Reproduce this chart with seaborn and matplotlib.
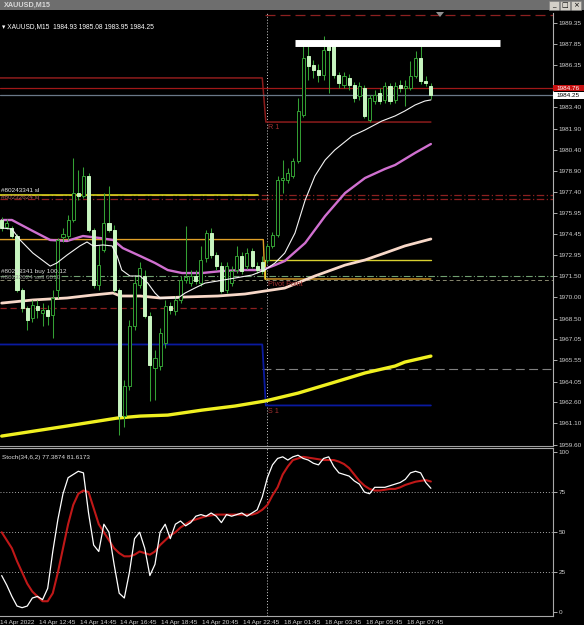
import matplotlib
matplotlib.use("Agg")
import matplotlib.pyplot as plt
import seaborn as sns
import numpy as np
import pandas as pd
from matplotlib.patches import Rectangle, Polygon

# ---------------- data ----------------
SYMBOL = "XAUUSD,M15"
HEADER_OHLC = ["1984.93", "1985.08", "1983.95", "1984.25"]

OPEN = [1975.45, 1974.96, 1974.89, 1974.32, 1970.51, 1969.24, 1968.54, 1969.38, 1968.89, 1969.10,
        1968.75, 1970.51, 1974.25, 1974.32, 1975.45, 1977.35, 1977.14, 1978.55, 1974.74, 1970.86,
        1973.33, 1975.24, 1974.74, 1970.51, 1961.62, 1963.74, 1967.97, 1970.86, 1971.50, 1968.68,
        1965.01, 1965.15, 1966.77, 1969.38, 1969.03, 1969.81, 1971.22, 1971.00, 1971.50, 1971.00,
        1972.77, 1974.53, 1972.98, 1972.20, 1970.51, 1971.00, 1971.92, 1972.91, 1972.20, 1973.26,
        1972.20, 1972.49, 1972.63, 1973.62, 1974.39, 1978.27, 1978.27, 1978.55, 1979.61, 1982.86,
        1987.02, 1986.38, 1986.03, 1985.68, 1987.73, 1987.80, 1985.68, 1984.97, 1985.47, 1984.97,
        1984.20, 1984.76, 1982.50, 1983.84, 1984.41, 1983.92, 1984.90, 1983.92, 1984.97, 1984.76,
        1984.76, 1985.61, 1986.88, 1985.26, 1984.93]
HIGH = [1975.66, 1975.52, 1975.03, 1974.46, 1970.65, 1969.38, 1969.81, 1969.81, 1969.59, 1969.45,
        1970.51, 1974.18, 1974.89, 1975.80, 1979.82, 1978.98, 1979.19, 1978.77, 1974.89, 1973.69,
        1977.35, 1977.85, 1975.10, 1970.65, 1964.16, 1968.39, 1971.57, 1972.49, 1971.92, 1968.96,
        1966.28, 1967.83, 1969.81, 1969.66, 1970.09, 1971.50, 1975.03, 1971.92, 1971.92, 1973.62,
        1974.74, 1974.89, 1973.19, 1972.49, 1972.49, 1972.20, 1973.62, 1973.19, 1973.47, 1973.47,
        1972.49, 1972.91, 1973.83, 1974.60, 1978.55, 1979.68, 1979.12, 1979.82, 1984.06, 1987.73,
        1987.73, 1986.74, 1986.46, 1988.43, 1988.15, 1988.15, 1985.89, 1985.89, 1985.75, 1985.19,
        1985.19, 1984.97, 1984.27, 1984.62, 1984.76, 1985.19, 1985.11, 1985.19, 1985.33, 1985.33,
        1986.67, 1987.37, 1987.73, 1985.61, 1985.08]
LOW = [1974.67, 1974.81, 1974.18, 1970.37, 1968.96, 1967.69, 1968.25, 1968.54, 1967.97, 1968.04,
       1967.12, 1969.95, 1973.90, 1974.04, 1975.31, 1976.86, 1977.00, 1974.60, 1970.65, 1970.51,
       1973.19, 1974.60, 1970.37, 1960.28, 1960.85, 1963.46, 1967.69, 1970.65, 1968.54, 1962.68,
       1962.75, 1964.87, 1966.42, 1968.82, 1968.75, 1969.59, 1971.00, 1970.79, 1970.93, 1970.79,
       1972.49, 1972.77, 1971.92, 1970.30, 1970.30, 1970.79, 1971.71, 1971.64, 1971.99, 1972.06,
       1971.71, 1971.64, 1972.42, 1973.47, 1974.25, 1977.35, 1978.06, 1978.41, 1979.47, 1982.72,
       1985.33, 1985.47, 1985.19, 1985.33, 1984.41, 1985.47, 1984.76, 1984.76, 1984.62, 1983.77,
       1983.92, 1982.65, 1982.36, 1983.63, 1983.63, 1983.70, 1983.63, 1983.70, 1984.48, 1983.49,
       1984.62, 1985.47, 1985.04, 1984.90, 1983.95]
CLOSE = [1974.89, 1975.24, 1974.32, 1970.51, 1969.24, 1968.39, 1969.45, 1969.10, 1969.10, 1968.68,
         1969.95, 1974.04, 1974.46, 1975.45, 1977.35, 1977.14, 1978.55, 1974.74, 1970.86, 1972.27,
         1975.24, 1974.74, 1970.51, 1961.62, 1963.74, 1967.97, 1971.00, 1972.06, 1968.68, 1965.22,
         1965.71, 1967.48, 1969.38, 1969.10, 1969.81, 1971.22, 1971.43, 1971.50, 1971.15, 1972.63,
         1974.53, 1972.98, 1972.20, 1970.44, 1972.20, 1971.85, 1972.91, 1971.85, 1973.12, 1972.20,
         1971.92, 1971.85, 1973.62, 1974.39, 1978.27, 1978.41, 1978.77, 1979.61, 1983.14, 1986.88,
         1986.31, 1986.03, 1985.68, 1987.44, 1987.44, 1985.68, 1985.11, 1985.61, 1984.97, 1984.06,
         1984.90, 1982.79, 1984.06, 1984.27, 1983.84, 1984.90, 1983.84, 1984.90, 1984.76, 1984.90,
         1985.61, 1986.88, 1985.26, 1985.11, 1984.25]

# moving averages read at points (bar index, price)
MA_FAST_BAR = [0, 2.0, 3.6, 6.1, 9.5, 10.8, 12.8, 15.3, 16.7, 17.9, 19.8, 21.6, 22.6, 23.5, 25.1, 27.1,
               28.6, 30.0, 31.0, 34.5, 35.9, 37.8, 39.8, 42.3, 45.7, 49.0, 51.5, 53.5, 55.4, 57.4, 59.4,
               61.3, 63.3, 65.2, 68.6, 71.1, 74.4, 77.0, 78.9, 80.9, 82.8, 84.0]
MA_FAST = [1974.89, 1974.81, 1974.04, 1973.12, 1972.20, 1972.42, 1972.98, 1973.62, 1973.90, 1973.62,
           1973.69, 1973.62, 1972.91, 1971.92, 1971.50, 1971.50, 1971.00, 1970.30, 1969.95, 1969.95,
           1970.30, 1970.65, 1971.00, 1971.15, 1971.36, 1971.57, 1971.92, 1972.42, 1973.12, 1974.53,
           1976.86, 1978.55, 1979.68, 1980.39, 1981.38, 1981.80, 1982.43, 1982.79, 1983.14, 1983.56,
           1983.84, 1983.92]
MA_MID_BAR = [0, 2.0, 6.1, 9.5, 12.8, 15.9, 19.2, 21.8, 23.7, 27.1, 30.0, 32.5, 35.3, 39.2, 43.1, 47.0,
              50.9, 53.5, 55.4, 59.4, 63.3, 67.2, 71.1, 75.0, 77.0, 80.9, 84.0]
MA_MID = [1975.45, 1975.45, 1974.67, 1974.04, 1973.97, 1974.32, 1974.18, 1974.04, 1973.47, 1972.91,
          1972.42, 1971.92, 1971.71, 1971.71, 1971.85, 1971.92, 1971.92, 1972.27, 1972.56, 1973.83,
          1975.73, 1977.35, 1978.41, 1979.05, 1979.33, 1980.18, 1980.81]
MA_SLOW_BAR = [0, 6.1, 12.8, 17.9, 21.8, 23.2, 27.1, 31.0, 35.9, 42.3, 47.6, 51.5, 55.4, 61.3, 67.2,
               71.1, 75.0, 78.9, 84.0]
MA_SLOW = [1969.59, 1969.81, 1969.95, 1970.16, 1970.30, 1970.09, 1970.09, 1969.95, 1970.02, 1970.09,
           1970.23, 1970.44, 1970.65, 1971.50, 1972.27, 1972.63, 1973.12, 1973.62, 1974.11]
MA_LONG_BAR = [0, 12.8, 22.6, 27.1, 32.5, 39.2, 45.7, 51.5, 58.0, 64.6, 71.1, 77.0, 78.9, 84.0]
MA_LONG = [1960.21, 1960.92, 1961.48, 1961.62, 1961.69, 1962.04, 1962.33, 1962.68, 1963.24, 1963.95,
           1964.66, 1965.15, 1965.43, 1965.85]

# Stochastic (34,6,2), one value per bar
STOCH_MAIN = [23, 17, 10, 4, 3, 4, 9, 10, 8, 15,
              38, 58, 74, 84, 86, 88, 87, 62, 42, 38,
              55, 50, 30, 12, 9, 25, 46, 50, 40, 23,
              30, 50, 55, 46, 55, 57, 54, 56, 60, 61,
              60, 62, 60, 56, 61, 60, 61, 62, 60, 62,
              64, 72, 84, 92, 96, 97, 95, 97, 98, 96,
              95, 93, 92, 96, 97, 91, 87, 86, 85, 82,
              80, 75, 74, 78, 78, 78, 79, 80, 81, 83,
              87, 88, 87, 81, 77.3874]
STOCH_SIGNAL = [50, 45, 40, 32, 25, 18, 13, 10, 7, 7,
                12, 25, 40, 55, 67, 74, 76, 75, 65, 55,
                50, 45, 40, 37, 35, 35, 36, 38, 37, 36,
                38, 42, 45, 48, 50, 53, 55, 57, 58, 59,
                60, 60.5, 61, 61, 61, 61, 61, 61, 61, 61,
                62, 64, 67, 73, 78, 86, 91, 95, 96, 97,
                96.5, 96, 95.5, 95, 95, 95, 94, 92.5, 90, 86,
                82, 79, 77, 76, 76, 76.5, 77, 77, 78, 79.5,
                80.5, 81.5, 82, 82.5, 81.6173]

# levels
R1_LEVELS = [1985.47, 1982.36]
PIVOT_LEVELS = [1974.07, 1971.29]
S1_LEVELS = [1966.67, 1962.37]
DAY2_LINE = 1972.63
SL_LINE = 1977.21
RED_DASHDOT = [1977.21, 1976.93]
BUY_LINE = 1971.50
ORDER_LINE2 = 1971.22
RED_DASHED = 1969.24
GRAY_DASHED = 1964.94
TOP_DASHED = 1989.93
ASK = 1984.76
BID = 1984.25
WHITE_BAR = 1987.94
WHITE_BAR_SPAN = [57.4, 97.5]

PRICE_TICKS = [1989.35, 1987.85, 1986.35, 1983.40, 1981.90, 1980.40, 1978.90, 1977.40, 1975.95,
               1974.45, 1972.95, 1971.50, 1970.00, 1968.50, 1967.05, 1965.55, 1964.05, 1962.60,
               1961.10, 1959.60]
STOCH_TICKS = [0, 25, 50, 75, 100]
TIME_BARS = [7, 15, 23, 31, 39, 47, 55, 63, 71, 79]
TIME_LABELS = ["14 Apr 12:45", "14 Apr 14:45", "14 Apr 16:45", "14 Apr 18:45", "14 Apr 20:45",
               "14 Apr 22:45", "18 Apr 01:45", "18 Apr 03:45", "18 Apr 05:45", "18 Apr 07:45"]
FIRST_LABEL = "14 Apr 2022"
DAY_BREAK = 52

# ---------------- style ----------------
sns.set_style("dark", {"axes.facecolor": "black", "figure.facecolor": "black"})
plt.rcParams['font.family'] = ['Liberation Sans', 'DejaVu Sans']
FS = 4.6
W, H = 584, 625
fig = plt.figure(figsize=(W / 100, H / 100), dpi=100, facecolor="black")

def fx(px):
    return px / W

def fy(py):
    return 1 - py / H

ax = fig.add_axes([0, fy(446), fx(553), (446 - 13) / H])
ax2 = fig.add_axes([0, fy(616), fx(553), (616 - 448) / H])
for a in (ax, ax2):
    a.set_facecolor("black")
    a.grid(False)
    for s in a.spines.values():
        s.set_visible(False)

n = len(OPEN)
xs = np.arange(n)
XMIN, XMAX = -0.33, 107.9
ax.set_xlim(XMIN, XMAX)
ax2.set_xlim(XMIN, XMAX)
ax.set_ylim(1959.51, 1990.05)
ax2.set_ylim(-2.2, 102.5)

# ---- horizontal levels ----
ax.plot([XMIN, 51, 51.7, 84], [R1_LEVELS[0], R1_LEVELS[0], R1_LEVELS[1], R1_LEVELS[1]],
        color="#8c1c1c", lw=1.1, zorder=2)
ax.plot([XMIN, 51.2, 51.5, 84], [PIVOT_LEVELS[0], PIVOT_LEVELS[0], PIVOT_LEVELS[1], PIVOT_LEVELS[1]],
        color="#e0a028", lw=1.0, zorder=2)
ax.plot([51.5, 84], [DAY2_LINE, DAY2_LINE], color="#d8d030", lw=1.0, zorder=2)
ax.plot([51.5, 51.5], [DAY2_LINE, PIVOT_LEVELS[1]], color="#d8d030", lw=0.8, zorder=2)
ax.plot([XMIN, 51, 51.7, 84], [S1_LEVELS[0], S1_LEVELS[0], S1_LEVELS[1], S1_LEVELS[1]],
        color="#0a1aa0", lw=1.3, zorder=2)
ax.plot([XMIN, 50.2], [SL_LINE, SL_LINE], color="#e8e820", lw=1.1, zorder=2)
for lv in RED_DASHDOT:
    ax.plot([XMIN, XMAX], [lv, lv], color="#8c2020", lw=0.9, ls=(0, (6, 2, 1, 2)), zorder=1)
ax.plot([XMIN, XMAX], [BUY_LINE, BUY_LINE], color="#70a070", lw=0.8, ls=(0, (6, 2, 1, 2)), zorder=1)
ax.plot([XMIN, XMAX], [ORDER_LINE2, ORDER_LINE2], color="#8a8a70", lw=0.7, ls=(0, (4, 3)), zorder=1)
ax.plot([XMIN, 51], [RED_DASHED, RED_DASHED], color="#8c2020", lw=0.9, ls=(0, (5, 3)), zorder=1)
ax.plot([51, XMAX], [GRAY_DASHED, GRAY_DASHED], color="#808080", lw=0.8, ls=(0, (8, 4)), zorder=1)
ax.plot([51.5, XMAX], [TOP_DASHED, TOP_DASHED], color="#8c2020", lw=0.9, ls=(0, (8, 4)), zorder=1)
ax.plot([XMIN, XMAX], [ASK, ASK], color="#a01818", lw=0.9, zorder=2)
ax.plot([XMIN, XMAX], [BID, BID], color="#6a7888", lw=0.9, zorder=2)
ax.plot(WHITE_BAR_SPAN, [WHITE_BAR, WHITE_BAR], color="white", lw=5.0, solid_capstyle="butt", zorder=6)

# ---- moving averages (seaborn) ----
sns.lineplot(x=MA_LONG_BAR, y=MA_LONG, ax=ax, color="#f0f020", lw=2.4, sort=False, legend=False, zorder=3)
sns.lineplot(x=MA_SLOW_BAR, y=MA_SLOW, ax=ax, color="#f8d8c8", lw=2.0, sort=False, legend=False, zorder=3)
sns.lineplot(x=MA_MID_BAR, y=MA_MID, ax=ax, color="#d070d0", lw=1.7, sort=False, legend=False, zorder=3)
sns.lineplot(x=MA_FAST_BAR, y=MA_FAST, ax=ax, color="#f4f4f4", lw=0.8, sort=False, legend=False, zorder=5)

# ---- candles ----
EDGE = "#34a034"
BEAR_FILL = "#c8f5c0"
for i in range(n):
    o, h, l, c = OPEN[i], HIGH[i], LOW[i], CLOSE[i]
    ax.vlines(i, l, h, color=EDGE, lw=0.75, zorder=4)
    bull = c >= o
    bot = min(o, c)
    hgt = max(abs(c - o), 0.03)
    ax.add_patch(Rectangle((i - 0.3, bot), 0.6, hgt,
                           facecolor="black" if bull else BEAR_FILL,
                           edgecolor=EDGE if bull else BEAR_FILL, lw=0.7, zorder=4.5))

# separator
for a in (ax, ax2):
    a.axvline(DAY_BREAK, color="#d8d8d8", lw=0.7, ls=(0, (1, 2)), zorder=1)

# level labels
ax.text(52.2, 1981.94, "R 1", color="#a03030", fontsize=FS + 0.6, va="center", ha="left", zorder=7)
ax.text(52.2, 1970.90, "Pivot Point", color="#a03030", fontsize=FS + 0.6, va="center", ha="left", zorder=7)
ax.text(52.2, 1961.95, "S 1", color="#a03030", fontsize=FS + 0.6, va="center", ha="left", zorder=7)
ax.text(-0.2, 1977.55, "#80243341 sl", color="#e8e8e8", fontsize=FS, va="center", ha="left", zorder=7)
ax.text(-0.2, 1977.05, "#80232624 sl", color="#a06060", fontsize=FS, va="center", ha="left", zorder=7)
ax.text(-0.2, 1971.80, "#80243341 buy 100.12", color="#d8d8d8", fontsize=FS, va="center", ha="left", zorder=7)
ax.text(-0.2, 1971.40, "#80232624 sell 6010", color="#909090", fontsize=FS, va="center", ha="left", zorder=7)

# header text
ax.text(0.004, 1989.08, "\u25BE " + SYMBOL + "  " + " ".join(HEADER_OHLC),
        transform=ax.get_yaxis_transform(), color="white", fontsize=FS + 0.2, va="center", ha="left", zorder=8)

# ---- price axis ----
ax.yaxis.tick_right()
ax.set_yticks(PRICE_TICKS)
ax.set_yticklabels([f"{p:.2f}" for p in PRICE_TICKS])
ax.tick_params(axis="y", colors="#c8c8c8", labelcolor="#d0d0d0", labelsize=FS, length=3, width=0.6,
               pad=1, direction="out")
ax.set_xticks([])
ax.spines["right"].set_visible(True)
ax.spines["right"].set_color("#b0b0b0")
ax.spines["right"].set_linewidth(0.8)
ax.spines["bottom"].set_visible(True)
ax.spines["bottom"].set_color("#a0a0a0")
ax.spines["bottom"].set_linewidth(0.8)

# bid / ask boxes
tr = ax.get_yaxis_transform()
ax.add_patch(Rectangle((1.0, ASK - 0.22), 31 / 553, 0.40, transform=tr, facecolor="#c81010",
                       edgecolor="none", clip_on=False, zorder=9))
ax.text(1.006, ASK - 0.02, f"{ASK:.2f}", transform=tr, color="white", fontsize=FS, va="center", ha="left",
        clip_on=False, zorder=10)
ax.add_patch(Rectangle((1.0, BID - 0.24), 31 / 553, 0.44, transform=tr, facecolor="white",
                       edgecolor="none", clip_on=False, zorder=9))
ax.text(1.006, BID - 0.02, f"{BID:.2f}", transform=tr, color="black", fontsize=FS, va="center", ha="left",
        clip_on=False, zorder=10)

# ---- stochastic ----
for lv in (25, 50, 75):
    ax2.axhline(lv, color="#a8a8a8", lw=0.7, ls=(0, (1, 2)), zorder=1)
sns.lineplot(x=xs, y=STOCH_SIGNAL, ax=ax2, color="#c01818", lw=1.5, sort=False, legend=False, zorder=3)
sns.lineplot(x=xs, y=STOCH_MAIN, ax=ax2, color="white", lw=0.9, sort=False, legend=False, zorder=4)
ax2.text(0.004, 96.5, "Stoch(34,6,2) 77.3874 81.6173", transform=ax2.get_yaxis_transform(),
         color="#e0e0e0", fontsize=FS, va="center", ha="left")
ax2.yaxis.tick_right()
ax2.set_yticks(STOCH_TICKS)
ax2.set_yticklabels([str(t) for t in STOCH_TICKS])
ax2.tick_params(axis="y", colors="#c8c8c8", labelcolor="#d0d0d0", labelsize=FS, length=3, width=0.6, pad=1)
ax2.set_xticks(TIME_BARS)
ax2.set_xticklabels([])
ax2.tick_params(axis="x", colors="#b0b0b0", length=3, width=0.6, direction="out")
for sp in ("right", "top", "bottom"):
    ax2.spines[sp].set_visible(True)
    ax2.spines[sp].set_color("#a8a8a8")
    ax2.spines[sp].set_linewidth(0.8)
xtr = ax2.get_xaxis_transform()
for b, lab in zip(TIME_BARS, TIME_LABELS):
    ax2.text(b + 0.25, -0.036, lab, transform=xtr, color="#d0d0d0", fontsize=FS, va="center", ha="left",
             clip_on=False)
ax2.text(-0.25, -0.036, FIRST_LABEL, transform=xtr, color="#d0d0d0", fontsize=FS, va="center", ha="left",
         clip_on=False)

# ---- window title bar ----
fig.patches.append(Rectangle((0, fy(10)), 1, 10 / H, transform=fig.transFigure, facecolor="#6e6e6e",
                             edgecolor="none", zorder=0))
fig.text(fx(4), fy(5), SYMBOL, color="#d8d8d8", fontsize=FS + 0.6, fontweight="bold", va="center", ha="left")
for k, g in enumerate(["_", "\u25A1", "\u00D7"]):
    x0 = 549 + k * 11
    fig.patches.append(Rectangle((fx(x0), fy(10)), 10 / W, 9 / H, transform=fig.transFigure,
                                 facecolor="#d4d0c8", edgecolor="#808080", lw=0.4, zorder=1))
    fig.text(fx(x0 + 5), fy(5.5), g, color="black", fontsize=FS + 0.4, va="center", ha="center",
             family="DejaVu Sans")
# chart shift marker
fig.patches.append(Polygon([[fx(436), fy(12)], [fx(444), fy(12)], [fx(440), fy(17)]], closed=True,
                           transform=fig.transFigure, facecolor="#909090", edgecolor="none", zorder=5))

fig.savefig("out.png", dpi=100, facecolor="black")
